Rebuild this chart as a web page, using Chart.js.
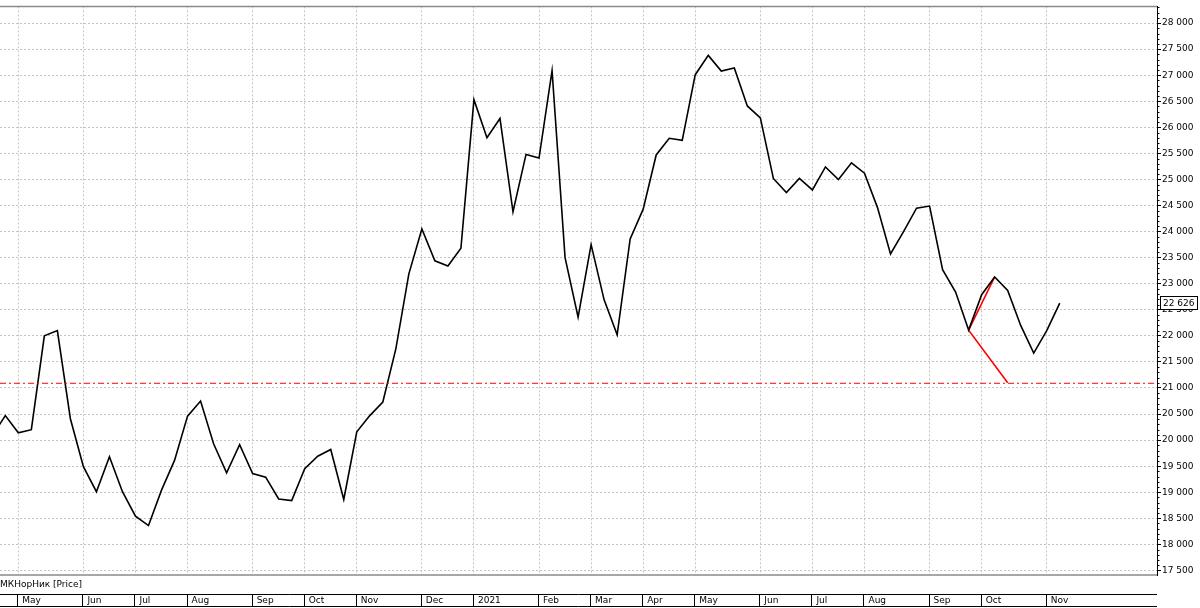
<!DOCTYPE html>
<html>
<head>
<meta charset="utf-8">
<script src="https://cdn.jsdelivr.net/npm/chart.js@4/dist/chart.umd.min.js"></script>
<style>
html,body{margin:0;padding:0;background:#fff;}
canvas{display:block;}
</style>
</head>
<body>
<canvas id="c" width="1200" height="608"></canvas>
<script>
// ---- data ----
const seriesName = "МКНорНик [Price]";
const firstWeekIndex = -1;
const priceValues = [
  20080, 20470, 20140, 20200, 22000, 22100, 20410, 19490, 19010, 19680,
  19010, 18540, 18360, 19040, 19610, 20460, 20750, 19930, 19370, 19910,
  19360, 19290, 18870, 18840, 19450, 19690, 19820, 18860, 20160, 20470,
  20730, 21750, 23190, 24050, 23440, 23340, 23680, 26530, 25800, 26170,
  24380, 25480, 25410, 27090, 23500, 22360, 23750, 22690, 22020, 23860,
  24430, 25470, 25790, 25750, 27010, 27380, 27080, 27140, 26410, 26180,
  25020, 24750, 25020, 24800, 25240, 25000, 25320, 25120, 24460, 23570,
  24000, 24450, 24490, 23270, 22840, 22110, 22790, 23130, 22870, 22200,
  21670, 22100, 22626
];
const monthLabels = ["May","Jun","Jul","Aug","Sep","Oct","Nov","Dec","2021","Feb","Mar","Apr","May","Jun","Jul","Aug","Sep","Oct","Nov"];
const monthStartWeeks = [1, 6, 10, 14, 19, 23, 27, 32, 36, 41, 45, 49, 53, 58, 62, 66, 71, 75, 80];
const yTickValues = [17500,18000,18500,19000,19500,20000,20500,21000,21500,22000,22500,23000,23500,24000,24500,25000,25500,26000,26500,27000,27500,28000];
const supportLevel = 21090;
const redSegmentWeeks = [76, 74, 77];
const redSegmentValues = [23130, 22110, 21100];
const lastValueLabel = "22 626";

// ---- derived ----
const priceData = priceValues.map((v, k) => ({x: firstWeekIndex + k, y: v}));
const redData = redSegmentWeeks.map((w, k) => ({x: w, y: redSegmentValues[k]}));
const X_MIN = -0.407, X_MAX = 88.47;
const Y_MIN = 17412, Y_MAX = 28320;
const FONT = '9px "DejaVu Sans"';
const fmt = v => String(v).replace(/\B(?=(\d{3})+(?!\d))/g, ' ');

const decor = {
  id: 'decor',
  afterDraw(chart) {
    const ctx = chart.ctx, a = chart.chartArea;
    const xs = chart.scales.x, ys = chart.scales.y;
    ctx.save();
    // frame top / bottom
    ctx.strokeStyle = '#8a8a8a'; ctx.lineWidth = 1.5;
    ctx.beginPath();
    ctx.moveTo(0, a.top); ctx.lineTo(a.right, a.top);
    ctx.moveTo(0, a.bottom); ctx.lineTo(a.right, a.bottom);
    ctx.stroke();
    // minor ticks on y axis
    ctx.strokeStyle = '#000'; ctx.lineWidth = 1;
    ctx.beginPath();
    for (let v = 17500; v <= 28300; v += 100) {
      if (v % 500 === 0) continue;
      const y = Math.round(ys.getPixelForValue(v)) + 0.5;
      ctx.moveTo(a.right, y); ctx.lineTo(a.right + 2.5, y);
    }
    ctx.stroke();
    // legend text
    ctx.fillStyle = '#000'; ctx.font = FONT;
    ctx.textBaseline = 'middle'; ctx.textAlign = 'left';
    ctx.fillText(seriesName, 0, 585);
    // bottom strip
    ctx.strokeStyle = '#000'; ctx.lineWidth = 1;
    ctx.beginPath();
    ctx.moveTo(0, 594.5); ctx.lineTo(a.right, 594.5);
    ctx.moveTo(0, 606.5); ctx.lineTo(a.right, 606.5);
    monthStartWeeks.forEach(w => {
      const x = Math.round(xs.getPixelForValue(w)) - 0.5;
      ctx.moveTo(x, 594.5); ctx.lineTo(x, 606.5);
    });
    ctx.stroke();
    monthStartWeeks.forEach((w, k) => {
      const x = xs.getPixelForValue(w);
      ctx.fillText(monthLabels[k], x + 4, 601);
    });
    // last value box
    const ly = ys.getPixelForValue(priceValues[priceValues.length - 1]);
    ctx.fillStyle = '#fff';
    ctx.fillRect(a.right + 3, ly - 7, 38, 13);
    ctx.strokeStyle = '#000';
    ctx.strokeRect(a.right + 3.5, Math.round(ly - 7) + 0.5, 37, 13);
    ctx.fillStyle = '#000';
    ctx.fillText(lastValueLabel, a.right + 6, ly);
    ctx.restore();
  }
};

new Chart(document.getElementById('c'), {
  type: 'line',
  data: {
    datasets: [
      {
        label: 'support',
        data: [{x: X_MIN, y: supportLevel}, {x: X_MAX, y: supportLevel}],
        borderColor: '#ff0000', borderWidth: 1, borderDash: [6, 3, 2, 3],
        pointRadius: 0, tension: 0
      },
      {
        label: seriesName,
        data: priceData,
        borderColor: '#000', borderWidth: 1.6,
        pointRadius: 0, tension: 0
      },
      {
        label: 'red',
        data: redData,
        borderColor: '#ff0000', borderWidth: 1.6,
        pointRadius: 0, tension: 0
      }
    ]
  },
  options: {
    responsive: false,
    animation: false,
    devicePixelRatio: 1,
    layout: {padding: {top: 5, bottom: 33, left: 0, right: 0}},
    plugins: {legend: {display: false}, tooltip: {enabled: false}},
    scales: {
      x: {
        type: 'linear', min: X_MIN, max: X_MAX,
        afterBuildTicks: s => { s.ticks = monthStartWeeks.map(v => ({value: v})); },
        afterFit: s => { s.height = 0; },
        ticks: {display: false},
        grid: {color: '#c4c4c4', lineWidth: 1, drawTicks: false},
        border: {display: false, dash: [2, 2]}
      },
      y: {
        position: 'right',
        min: Y_MIN, max: Y_MAX,
        afterBuildTicks: s => { s.ticks = yTickValues.map(v => ({value: v})); },
        afterFit: s => { s.width = 43; },
        ticks: {
          color: '#000', font: {family: 'DejaVu Sans', size: 9},
          padding: 1, autoSkip: false,
          callback: v => fmt(v)
        },
        grid: {color: '#c4c4c4', lineWidth: 1, drawTicks: true, tickLength: 4, tickColor: '#000', tickWidth: 1},
        border: {display: true, color: '#000', width: 1, dash: [2, 2]}
      }
    }
  },
  plugins: [decor]
});
</script>
</body>
</html>
